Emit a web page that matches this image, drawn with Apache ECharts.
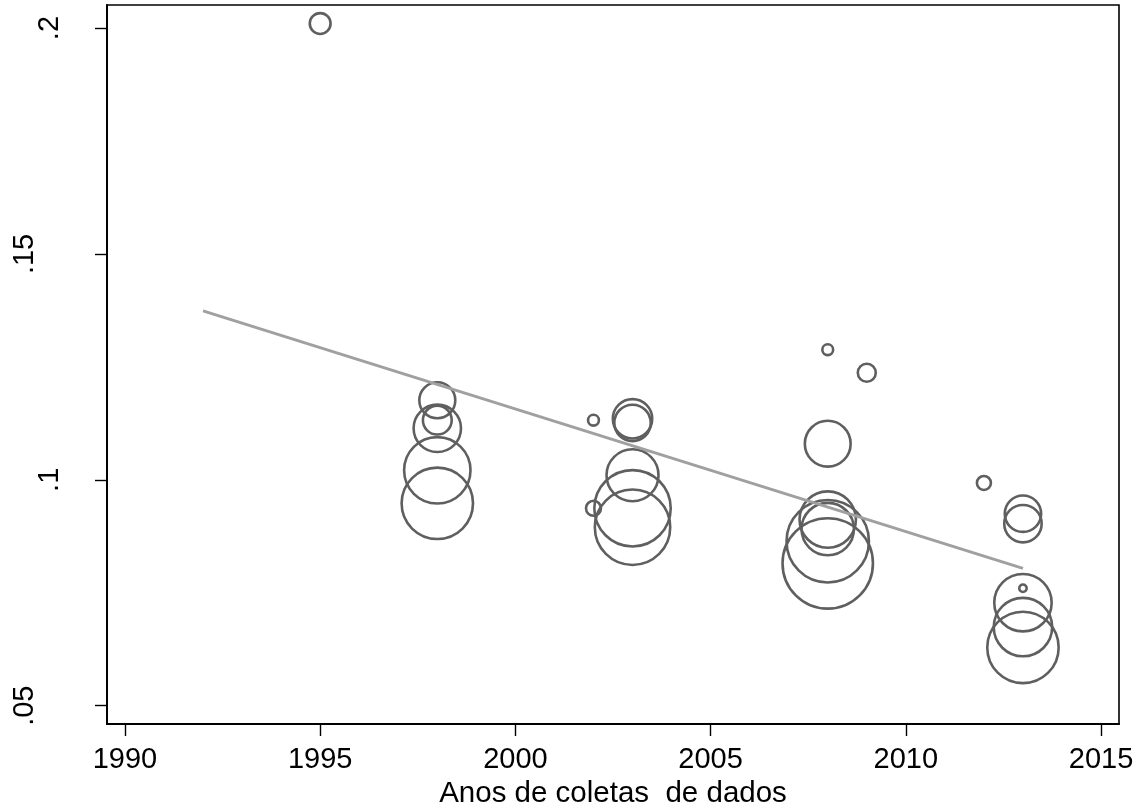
<!DOCTYPE html>
<html>
<head>
<meta charset="utf-8">
<script src="https://cdn.jsdelivr.net/npm/echarts@6/dist/echarts.min.js"></script>
<style>
html,body{margin:0;padding:0;background:#fff;}
#chart{width:1146px;height:806px;}
</style>
</head>
<body>
<div id="chart"></div>
<script>
// ---- data ----
const years   = [1995, 1998, 1998, 1998, 1998, 1998, 2002, 2002, 2003, 2003, 2003, 2003, 2003,
                 2008, 2009, 2008, 2008, 2008, 2008, 2008, 2012, 2013, 2013, 2013, 2013, 2013, 2013];
const values  = [0.2010, 0.1176, 0.1132, 0.1114, 0.1021, 0.0948, 0.1132, 0.0937, 0.1135, 0.1126, 0.1010, 0.0937, 0.0895,
                 0.1288, 0.1237, 0.1080, 0.0912, 0.0891, 0.0864, 0.0815, 0.0993, 0.0925, 0.0903, 0.0760, 0.0728, 0.0674, 0.0629];
const weights = [137, 372, 246, 625, 1190, 1369, 45, 77, 441, 380, 745, 1560, 1521,
                 45, 106, 586, 870, 756, 1806, 2162, 69, 380, 400, 25, 900, 930, 1369];
const fitYears  = [1992, 2013];
const fitValues = [0.1374, 0.0804];
const xTicks = [1990, 1995, 2000, 2005, 2010, 2015];
const yTicks = [0.05, 0.10, 0.15, 0.20];
const yTickLabels = ['.05', '.1', '.15', '.2'];
const xTitle = 'Anos de coletas  de dados';

const bubbleData = years.map((y, i) => [y, values[i], weights[i]]);
const fitData = fitYears.map((y, i) => [y, fitValues[i]]);
const LW = 2.6;

const chart = echarts.init(document.getElementById('chart'), null, {renderer: 'canvas'});
const font = 'Liberation Sans, Arial, sans-serif';
chart.setOption({
  animation: false,
  backgroundColor: '#ffffff',
  grid: {left: 107, right: 27, top: 5, bottom: 82, show: true, borderColor: '#000', borderWidth: 1.6,
         containLabel: false, outerBoundsMode: 'none'},
  xAxis: {
    type: 'value', min: 1989.54, max: 2015.46,
    axisLine: {show: true, onZero: false, lineStyle: {color: '#000', width: 2}},
    axisTick: {show: true, customValues: xTicks, length: 12, inside: false, lineStyle: {color: '#000', width: 1.4}},
    axisLabel: {customValues: xTicks, margin: 21, fontSize: 29, color: '#000', fontFamily: font,
      formatter: v => String(Math.round(v))},
    splitLine: {show: false},
    name: xTitle, nameLocation: 'middle', nameGap: 55,
    nameTextStyle: {fontSize: 29.5, color: '#000', fontFamily: font}
  },
  yAxis: {
    type: 'value', min: 0.04595, max: 0.2051,
    axisLine: {show: true, onZero: false, lineStyle: {color: '#000', width: 2}},
    axisTick: {show: true, customValues: yTicks, length: 12, inside: false, lineStyle: {color: '#000', width: 1.4}},
    axisLabel: {customValues: yTicks, rotate: 90, margin: 43, fontSize: 29, color: '#000', fontFamily: font,
      formatter: v => {
        const i = yTicks.findIndex(t => Math.abs(t - v) < 1e-9);
        const s = i >= 0 ? yTickLabels[i] : String(v);
        return s.length > 2 ? '{l|' + s + '}' : '{s|' + s + '}';
      },
      rich: {
        s: {fontSize: 29, fontFamily: font, color: '#000'},
        l: {fontSize: 29, fontFamily: font, color: '#000', padding: [0, 0, 25, 0]}
      }
    },
    splitLine: {show: false}
  },
  series: [
    {
      type: 'scatter', data: bubbleData, z: 2,
      symbol: 'circle',
      symbolSize: d => 2 * Math.sqrt(d[2]) - LW,
      itemStyle: {color: 'rgba(0,0,0,0)', borderColor: '#5f5f5f', borderWidth: LW, opacity: 1},
      emphasis: {disabled: true}
    },
    {
      type: 'line', data: fitData, z: 3, symbol: 'none',
      lineStyle: {color: '#a0a0a0', width: 3}
    }
  ]
});
</script>
</body>
</html>
